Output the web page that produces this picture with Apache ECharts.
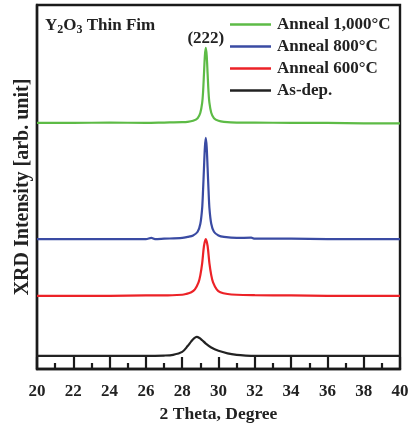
<!DOCTYPE html>
<html><head><meta charset="utf-8">
<script src="https://cdn.jsdelivr.net/npm/echarts@6/dist/echarts.min.js"></script>
<style>html,body{margin:0;padding:0;background:#fff}#c{width:409px;height:423px}</style>
</head><body><div id="c"></div>
<script>
// ---- data (intensities in arbitrary offset units) ----
const xTicks = [20,22,24,26,28,30,32,34,36,38,40];
const seriesNames = ['Anneal 1,000°C','Anneal 800°C','Anneal 600°C','As-dep.'];

const thetaGreen = [20,22,24,26,27,28,28.3,28.6,28.85,29.0,29.1,29.15,29.2,29.25,29.3,29.35,29.4,29.45,29.5,29.6,29.75,30.0,30.3,31,32,34,36,38,40];
const yGreen     = [67.6,67.6,67.7,67.6,67.7,67.8,67.9,68.2,68.9,70.4,73.1,76.1,81.1,86.1,88.2,86.1,81.1,76.1,73.1,70.4,68.9,68.2,67.9,67.7,67.7,67.6,67.6,67.5,67.5];

const thetaBlue = [20,22,24,26,26.3,26.5,27,28,28.3,28.6,28.85,29.0,29.1,29.15,29.2,29.25,29.3,29.35,29.4,29.45,29.5,29.6,29.75,30.0,30.3,31,31.8,32,34,36,38,40];
const yBlue     = [35.7,35.7,35.7,35.7,36.0,35.7,35.8,36.0,36.3,36.7,37.7,39.9,44.2,49.2,55.2,60.9,63.5,60.9,55.2,49.2,44.2,39.9,37.7,36.7,36.3,36.0,36.1,35.8,35.8,35.7,35.7,35.7];

const thetaRed = [20,22,24,26,27,28,28.2,28.5,28.7,28.9,29.0,29.1,29.2,29.3,29.4,29.5,29.6,29.7,29.9,30.1,30.5,31,32,34,36,38,40];
const yRed     = [20.1,20.1,20.1,20.2,20.2,20.4,20.6,21.1,21.9,23.8,25.8,29.0,33.8,35.7,33.8,29.0,25.8,23.8,21.9,21.1,20.6,20.4,20.3,20.2,20.1,20.1,20.1];

const thetaBlack = [20,22,24,26,27,27.5,28.0,28.3,28.5,28.65,28.8,28.95,29.1,29.3,29.6,30.0,30.5,31.0,31.5,32,34,36,38,40];
const yBlack     = [3.6,3.6,3.6,3.6,3.7,3.9,4.7,6.3,7.6,8.4,8.8,8.5,7.9,7.0,5.9,5.0,4.3,3.9,3.7,3.6,3.6,3.6,3.6,3.6];

const colors = ['#5dbb46','#3a4ba3','#ec2227','#222222'];
const peakLabel = '(222)';

const serif = '"Liberation Serif","Times New Roman",serif';
function pairs(xs, ys){ return xs.map((x,i)=>[x, ys[i]]); }
const all = [[thetaGreen,yGreen],[thetaBlue,yBlue],[thetaRed,yRed],[thetaBlack,yBlack]];

const series = all.map((d,i)=>({
  name: seriesNames[i], type:'line', data: pairs(d[0], d[1]),
  smooth: 0.3, symbol:'none', color: colors[i],
  lineStyle:{width:2.2, color: colors[i]}, z: 3
}));
const gi = yGreen.indexOf(Math.max(...yGreen));
series[0].markPoint = {
  symbol:'circle', symbolSize:0, silent:true,
  data:[{coord:[thetaGreen[gi], yGreen[gi]]}],
  label:{show:true, position:'top', distance:1, formatter: peakLabel,
         fontFamily: serif, fontWeight:'bold', fontSize:17, color:'#222'}
};

const chart = echarts.init(document.getElementById('c'), null, {renderer:'canvas'});
chart.setOption({
  animation:false,
  backgroundColor:'#fff',
  title:{
    left:40, top:10,
    text:'{a|Y}{s|2}{a|O}{s|3}{a| Thin Fim}',
    textStyle:{rich:{
      a:{fontFamily:serif, fontWeight:'bold', fontSize:17, color:'#222'},
      s:{fontFamily:serif, fontWeight:'bold', fontSize:12, color:'#222', padding:[9,0,0,0]}
    }}
  },
  legend:{
    data: seriesNames, orient:'vertical', left:225, top:11,
    itemWidth:41, itemHeight:14, itemGap:5, icon:'path://M0,6H41V8.4H0Z',
    textStyle:{fontFamily:serif, fontWeight:'bold', fontSize:17, color:'#222', padding:[0,0,0,1]}
  },
  grid:{left:37, right:9, top:5, bottom:54, outerBoundsMode:'none', containLabel:false,
        show:true, borderColor:'#1a1a1a', borderWidth:2.4},
  xAxis:{
    type:'value', min:20, max:40, interval:2,
    name:'2 Theta, Degree', nameLocation:'middle', nameGap:36,
    nameTextStyle:{fontFamily:serif, fontWeight:'bold', fontSize:17.5, color:'#222'},
    axisLine:{show:true, lineStyle:{color:'#1a1a1a', width:2.4}},
    axisTick:{show:true, inside:true, length:12, lineStyle:{color:'#1a1a1a', width:2.2}},
    minorTick:{show:true, splitNumber:2, length:6, lineStyle:{color:'#1a1a1a', width:2.2}},
    splitLine:{show:false},
    axisLabel:{margin:14, fontFamily:serif, fontWeight:'bold', fontSize:17, color:'#222',
      formatter:v=> xTicks.includes(v) ? String(v) : ''}
  },
  yAxis:{
    type:'value', min:0, max:100,
    name:'XRD Intensity [arb. unit]', nameLocation:'middle', nameGap:4,
    nameTextStyle:{fontFamily:serif, fontWeight:'bold', fontSize:20, color:'#222'},
    axisLine:{show:true, lineStyle:{color:'#1a1a1a', width:2.4}},
    axisTick:{show:false}, axisLabel:{show:false}, splitLine:{show:false}
  },
  series
});
</script></body></html>
